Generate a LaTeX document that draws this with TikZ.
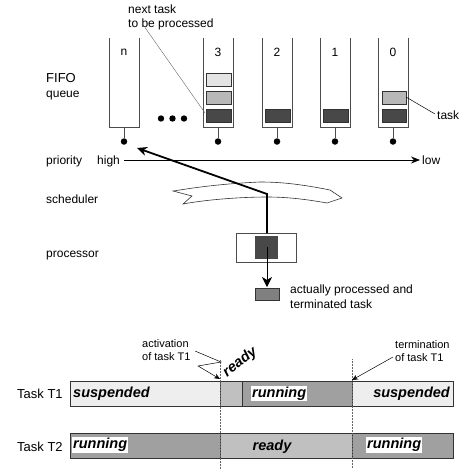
\documentclass[tikz,border=0pt]{standalone}
\usepackage{fontspec}
\setmainfont{Liberation Sans}
\usetikzlibrary{arrows.meta}
\definecolor{tdark}{HTML}{484848}
\definecolor{tmid}{HTML}{B8B8B8}
\definecolor{tlight}{HTML}{E4E4E4}
\definecolor{bsusp}{HTML}{EEEEEE}
\definecolor{bready}{HTML}{C0C0C0}
\definecolor{brun}{HTML}{A0A0A0}
\begin{document}
\begin{tikzpicture}[x=1pt,y=-1pt,
  tube/.style={draw=black!70,line width=0.6pt},
  taskbox/.style={draw=black!80,line width=0.6pt},
  lbl/.style={font=\fontsize{12}{13}\selectfont,inner sep=0pt,anchor=base west},
  small/.style={font=\fontsize{11}{13}\selectfont,inner sep=0pt,anchor=base west},
  state/.style={font=\fontsize{14.5}{15}\selectfont\bfseries\itshape,inner sep=1pt},
  qnum/.style={font=\fontsize{12}{13}\selectfont,inner sep=0pt},
  dot/.style={circle,fill=black,inner sep=0pt,minimum size=6.5pt},
  bar/.style={draw=black!80,line width=0.6pt}]
\useasboundingbox (0,0) rectangle (461,469);

% queues
\foreach \nm/\x/\lab in {qn/109/n,q3/203/3,q2/262/2,q1/320/1,q0/378/0}{
  \draw[tube] (\x,38) -- (\x,127) -- (\x+30,127) -- (\x+30,38);
  \node[qnum] (\nm-lab) at (\x+15,52) {\lab};
  \node[dot] (\nm-dot) at (\x+15,141.5) {};
  \draw[black!70,line width=0.6pt] (\x+15,127) -- (\nm-dot);
}
% tasks in queues
\draw[taskbox,fill=tlight] (206,73.5) rectangle (231,86);
\draw[taskbox,fill=tmid] (206,91.5) rectangle (231,104);
\draw[taskbox,fill=tdark] (206,109.5) rectangle (231,122);
\coordinate (t3c) at (205,113);
\draw[taskbox,fill=tdark] (265,109.5) rectangle (290,122);
\draw[taskbox,fill=tdark] (323,109.5) rectangle (348,122);
\draw[taskbox,fill=tmid] (382,91.5) rectangle (406,104);
\coordinate (t0b) at (406,97);
\draw[taskbox,fill=tdark] (382,109.5) rectangle (406,122);

% ellipsis dots
\foreach \x in {161,172.5,184} \fill (\x,118.5) circle (3.2pt);

% labels
\node[lbl] (nt1) at (128,13) {next task};
\node[lbl] (nt2) at (128,27) {to be processed};
\draw[black!60,line width=0.4pt] (145,27.5) -- (t3c);
\node[lbl] (task) at (437,119) {task};
\draw[black,line width=0.5pt] (t0b) -- (435,114);
\node[lbl,font=\fontsize{13}{14}\selectfont] (fifo) at (46,82) {FIFO};
\node[lbl] (queue) at (46,97) {queue};
\node[lbl] (prio) at (46,164) {priority};
\node[lbl] (high) at (97,164) {high};
\node[lbl] (low) at (422,164) {low};
\draw[line width=0.6pt,-{Stealth[length=9pt,width=7pt]}] (124,160) -- (420,160);

% scheduler
\draw[black!80,line width=0.6pt,fill=white] (173,191) -- (193,188) .. controls (215,185) and (237,183) .. (260,182)
  .. controls (280,182) and (300,184) .. (330,190) -- (342,198) -- (327,203)
  .. controls (310,200) and (290,197) .. (267,197) .. controls (245,197) and (210,199) .. (183,204)
  -- (192,196) -- cycle;
\node[lbl] (sched) at (46,203) {scheduler};
\coordinate (sp) at (267,194);
\coordinate (hightip) at (137,148);

% processor
\node[lbl] (proc) at (46,257) {processor};
\node[draw=black!70,line width=0.6pt,minimum width=60pt,minimum height=29pt,inner sep=0pt] (procbox) at (266,247.5) {};
\node[fill=tdark,minimum width=23pt,minimum height=23pt,inner sep=0pt] (ptask) at (266.5,247.5) {};
\draw[line width=1.8pt,-{Stealth[length=10pt,width=9pt]}] (267,233) -- (sp) -- (hightip);
\draw[line width=0.6pt,-{Stealth[length=10pt,width=10pt,inset=3pt]}] (267,247) -- (267,287);
\draw[taskbox,fill=black!50] (255,288.5) rectangle (279,300.5);
\node[lbl] (done1) at (290,293) {actually processed and};
\node[lbl] (done2) at (290,308) {terminated task};

% bars
\draw[bar,fill=bsusp] (70,381) rectangle (220,406);
\draw[bar,fill=bready] (220,381) rectangle (242,406);
\draw[bar,fill=brun] (242,381) rectangle (352,406);
\draw[bar,fill=bsusp] (352,381) rectangle (453,406);
\draw[bar,fill=brun] (70,433) rectangle (220,458);
\draw[bar,fill=bready] (220,433) rectangle (352,458);
\draw[bar,fill=brun] (352,433) rectangle (453,458);

\node[state,anchor=west] (s1) at (72,393.5) {suspended};
\node[state,anchor=west,fill=white] (r1) at (251,393.5) {running};
\node[state,anchor=east] (s2) at (451,393.5) {suspended};
\node[state,anchor=west,fill=white] (r2) at (72,445) {running};
\node[state] (rd2) at (272,447) {ready};
\node[state,anchor=west,fill=white] (r3) at (366,445) {running};
\node[state,rotate=38,anchor=south west,inner sep=0pt] (rd1) at (229,380) {ready};

\node[lbl,font=\fontsize{13}{14}\selectfont] (tt1) at (17,398) {Task T1};
\node[lbl,font=\fontsize{13}{14}\selectfont] (tt2) at (17,451) {Task T2};

% dashed verticals
\draw[black!60,line width=0.5pt,densely dotted] (220,360) -- (220,469);
\draw[black!60,line width=0.5pt,densely dotted] (352,359) -- (352,469);

% activation / termination
\node[small] (act1) at (142,347) {activation};
\node[small] (act2) at (142,360) {of task T1};
\coordinate (ta) at (220,379);
\draw[line width=0.5pt,-{Stealth[length=6pt,width=5pt]}] (195,351) -- (221,362) -- (198,366) -- (ta);
\node[small] (term1) at (395,348) {termination};
\node[small] (term2) at (395,361) {of task T1};
\coordinate (tb) at (352,380);
\draw[line width=0.5pt,-{Stealth[length=6pt,width=5pt]}] (393,357) -- (tb);
\end{tikzpicture}
\end{document}
